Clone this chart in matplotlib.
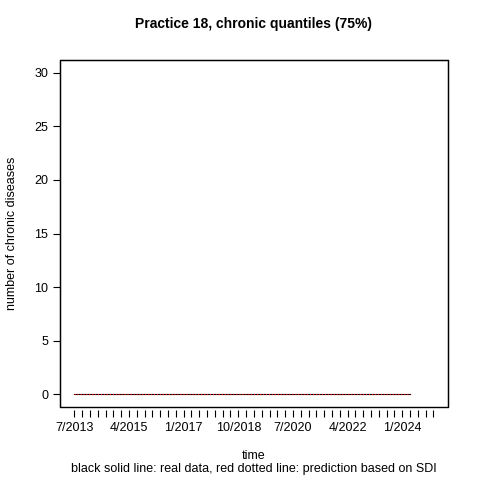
import matplotlib.pyplot as plt
from matplotlib.patches import Rectangle
import numpy as np

plt.rcParams['font.family'] = ['Liberation Sans', 'DejaVu Sans']

tick_labels = ['7/2013', '4/2015', '1/2017', '10/2018', '7/2020', '4/2022', '1/2024']
n_ticks = 47
real = [0] * 44
pred = [0] * 44

fig = plt.figure(figsize=(4.8, 4.8), dpi=100)
ax = fig.add_axes([0.125, 0.152, 0.808, 0.723])
x = np.arange(len(real))
ax.plot(x, real, '-', color='black', lw=0.8)
ax.plot(x, pred, ':', color='red', lw=0.8)
ax.set_xlim(-1.84, 47.84)
ax.set_ylim(-1.2, 31.2)
ax.set_xticks(np.arange(n_ticks))
ax.set_xticklabels([tick_labels[i // 7] if i % 7 == 0 and i // 7 < len(tick_labels) else '' for i in range(n_ticks)])
ax.set_yticks([0, 5, 10, 15, 20, 25, 30])
ax.tick_params(labelsize=9, length=5, direction='out')
ax.spines['bottom'].set_position(('outward', 2))
ax.spines['bottom'].set_visible(False)
ax.add_patch(Rectangle((0, 0), 1, 1, transform=ax.transAxes, fill=False, lw=1, clip_on=False))
ax.set_title('Practice 18, chronic quantiles (75%)', fontsize=10, fontweight='bold', pad=23)
ax.set_xlabel('time\nblack solid line: real data, red dotted line: prediction based on SDI', fontsize=9, labelpad=12, linespacing=1.05)
ax.set_ylabel('number of chronic diseases', fontsize=9, labelpad=12)
fig.savefig('out.png', dpi=100)
